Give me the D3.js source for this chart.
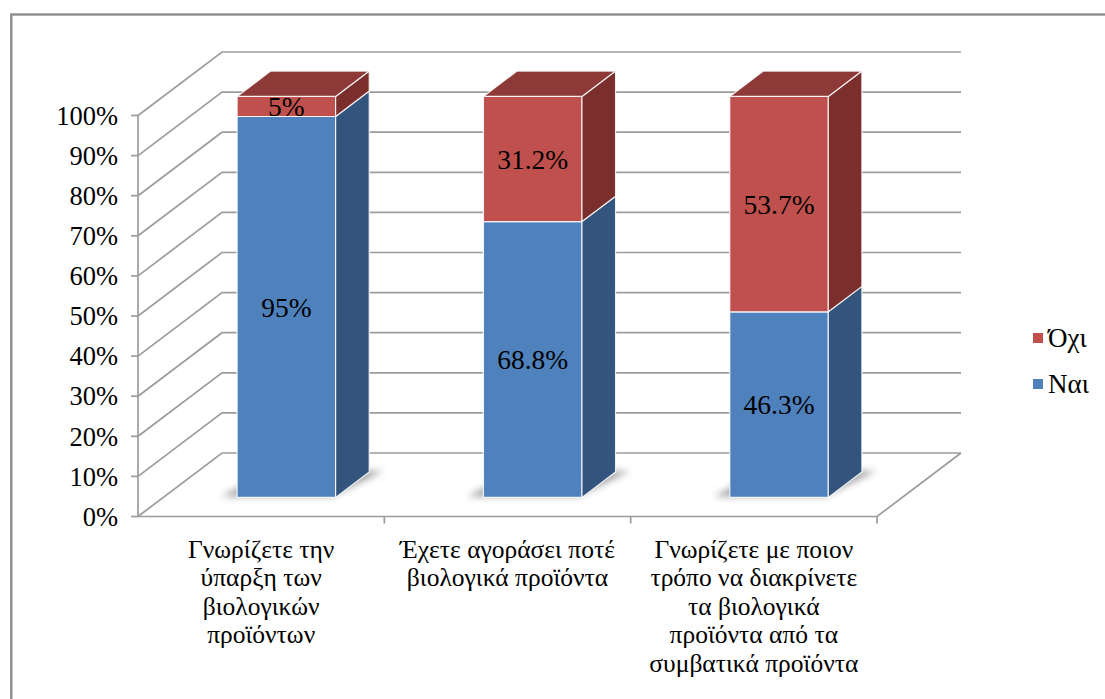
<!DOCTYPE html>
<html>
<head>
<meta charset="utf-8">
<script src="https://cdn.jsdelivr.net/npm/d3@7"></script>
<style>
  html, body { margin: 0; padding: 0; background: #fff; }
  svg { display: block; }
</style>
</head>
<body>
<svg id="chart" width="1105" height="699"></svg>
<script>
// Survey answers on organic products (percent of respondents)
const categories = ["q1", "q2", "q3"];
const categoryLines = [
  ["Γνωρίζετε την", "ύπαρξη  των", "βιολογικών", "προϊόντων"],
  ["Έχετε αγοράσει ποτέ", "βιολογικά προϊόντα"],
  ["Γνωρίζετε με ποιον", "τρόπο να διακρίνετε", "τα βιολογικά", "προϊόντα από τα", "συμβατικά προϊόντα"]
];
const yesValues = [95, 68.8, 46.3];
const noValues = [5, 31.2, 53.7];
const yesLabels = ["95%", "68.8%", "46.3%"];
const noLabels = ["5%", "31.2%", "53.7%"];
const seriesNames = ["Ναι", "Όχι"];
const yTicks = [0, 10, 20, 30, 40, 50, 60, 70, 80, 90, 100];

const serif = "Liberation Serif, Times New Roman, Times, DejaVu Serif, serif";
const svg = d3.select("#chart").style("font-family", serif);

// front plane of the plot box
const plotLeft = 138, plotRight = 877, plotBase = 516.5, plotTop = 115.5;
// oblique depth offset of the back wall
const depthX = 84, depthY = -63.5;
const P = (px, py, d) => [px + depthX * d, py + depthY * d];

const x = d3.scaleBand().domain(categories).range([plotLeft, plotRight])
  .paddingInner(0.6).paddingOuter(0.3);
const y = d3.scaleLinear().domain([0, 100]).range([plotBase, plotTop]);

const colors = {
  yes: { front: "#4f81bd", side: "#33547c", top: "#3f6a9e" },
  no:  { front: "#c0504d", side: "#7b2f2d", top: "#8d3937" }
};

// outer frame
svg.append("rect")
  .attr("x", 11.3).attr("y", 14.5).attr("width", 1300).attr("height", 900)
  .attr("fill", "none").attr("stroke", "#8c8c8c").attr("stroke-width", 2.4);

const grid = svg.append("g").attr("stroke", "#9c9c9c").attr("stroke-width", 1.7).attr("fill", "none");
const poly = pts => pts.map(p => p.join(",")).join(" ");

// back wall gridlines and side wall diagonals
yTicks.forEach(t => {
  grid.append("polyline").attr("points",
    poly([P(plotLeft, y(t), 0), P(plotLeft, y(t), 1), P(plotRight, y(t), 1)]));
});

// floor edges
grid.append("polyline").attr("points",
  poly([P(plotLeft, plotBase, 0), P(plotRight, plotBase, 0), P(plotRight, plotBase, 1)]));

// y axis
const yAxis = svg.append("g");
yAxis.append("line").attr("x1", plotLeft).attr("x2", plotLeft).attr("y1", y(100)).attr("y2", y(0))
  .attr("stroke", "#9c9c9c").attr("stroke-width", 1.7);
yTicks.forEach(t => {
  yAxis.append("line").attr("x1", plotLeft - 7).attr("x2", plotLeft).attr("y1", y(t)).attr("y2", y(t))
    .attr("stroke", "#9c9c9c").attr("stroke-width", 1.7);
  yAxis.append("text").attr("x", 118).attr("y", y(t)).attr("dy", "0.35em")
    .style("font-family", serif).attr("fill", "#000")
    .attr("text-anchor", "end").attr("font-size", 26.5).text(t + "%");
});

// category tick marks
const step = x.step();
categories.forEach((c, i) => {
  const tx = plotLeft + step * (i + 1);
  svg.append("line").attr("x1", tx).attr("x2", tx).attr("y1", plotBase).attr("y2", plotBase + 7)
    .attr("stroke", "#9c9c9c").attr("stroke-width", 1.7);
});

// category labels
categories.forEach((c, i) => {
  const cx = x(c) + x.bandwidth() / 2;
  const t = svg.append("text").attr("text-anchor", "middle").attr("font-size", 25.5)
    .style("font-family", serif).attr("fill", "#000");
  categoryLines[i].forEach((line, j) => {
    t.append("tspan").attr("x", cx).attr("y", 558 + j * 28.4).text(line);
  });
});

// soft shadows under bars
const defs = svg.append("defs");
defs.append("filter").attr("id", "soft").attr("x", "-30%").attr("y", "-30%")
  .attr("width", "160%").attr("height", "160%")
  .append("feGaussianBlur").attr("stdDeviation", 3.5);

const d0 = 0.3, d1 = 0.7;

categories.forEach(c => {
  const x0 = x(c), x1 = x0 + x.bandwidth();
  svg.append("polygon")
    .attr("points", poly([P(x0 - 16, plotBase - 1, d0), P(x1 - 4, plotBase - 1, d0),
                          P(x1 + 14, plotBase - 1, d1), P(x0, plotBase - 1, d1)]))
    .attr("fill", "#555").attr("opacity", 0.55).attr("filter", "url(#soft)");
});

// stacked 3D bars
const bars = svg.append("g");
categories.forEach((c, i) => {
  const x0 = x(c), x1 = x0 + x.bandwidth();
  const segs = [
    { from: 0, to: yesValues[i], col: colors.yes, label: yesLabels[i] },
    { from: yesValues[i], to: yesValues[i] + noValues[i], col: colors.no, label: noLabels[i] }
  ];
  segs.forEach((s, k) => {
    const ya = y(s.from), yb = y(s.to);
    const g = bars.append("g").attr("stroke", "#ffffff").attr("stroke-width", 1.2)
      .attr("stroke-opacity", 0.85).attr("stroke-linejoin", "round");
    g.append("polygon").attr("fill", s.col.front)
      .attr("points", poly([P(x0, yb, d0), P(x1, yb, d0), P(x1, ya, d0), P(x0, ya, d0)]));
    g.append("polygon").attr("fill", s.col.side)
      .attr("points", poly([P(x1, yb, d0), P(x1, yb, d1), P(x1, ya, d1), P(x1, ya, d0)]));
    if (k === segs.length - 1) {
      g.append("polygon").attr("fill", s.col.top)
        .attr("points", poly([P(x0, yb, d0), P(x1, yb, d0), P(x1, yb, d1), P(x0, yb, d1)]));
    }
  });
  segs.forEach(s => {
    const c0 = P((x0 + x1) / 2, (y(s.from) + y(s.to)) / 2, d0);
    bars.append("text").attr("x", c0[0]).attr("y", c0[1]).attr("dy", "0.35em")
      .style("font-family", serif).attr("fill", "#000")
      .attr("text-anchor", "middle").attr("font-size", 27.5).text(s.label);
  });
});

// legend
const legendItems = [
  { name: seriesNames[1], color: colors.no.front, ly: 338 },
  { name: seriesNames[0], color: colors.yes.front, ly: 384 }
];
legendItems.forEach(it => {
  svg.append("rect").attr("x", 1033).attr("y", it.ly - 5).attr("width", 10).attr("height", 10)
    .attr("fill", it.color);
  svg.append("text").attr("x", 1048).attr("y", it.ly).attr("dy", "0.35em")
    .style("font-family", serif).attr("fill", "#000")
    .attr("font-size", 27).text(it.name);
});
</script>
</body>
</html>
